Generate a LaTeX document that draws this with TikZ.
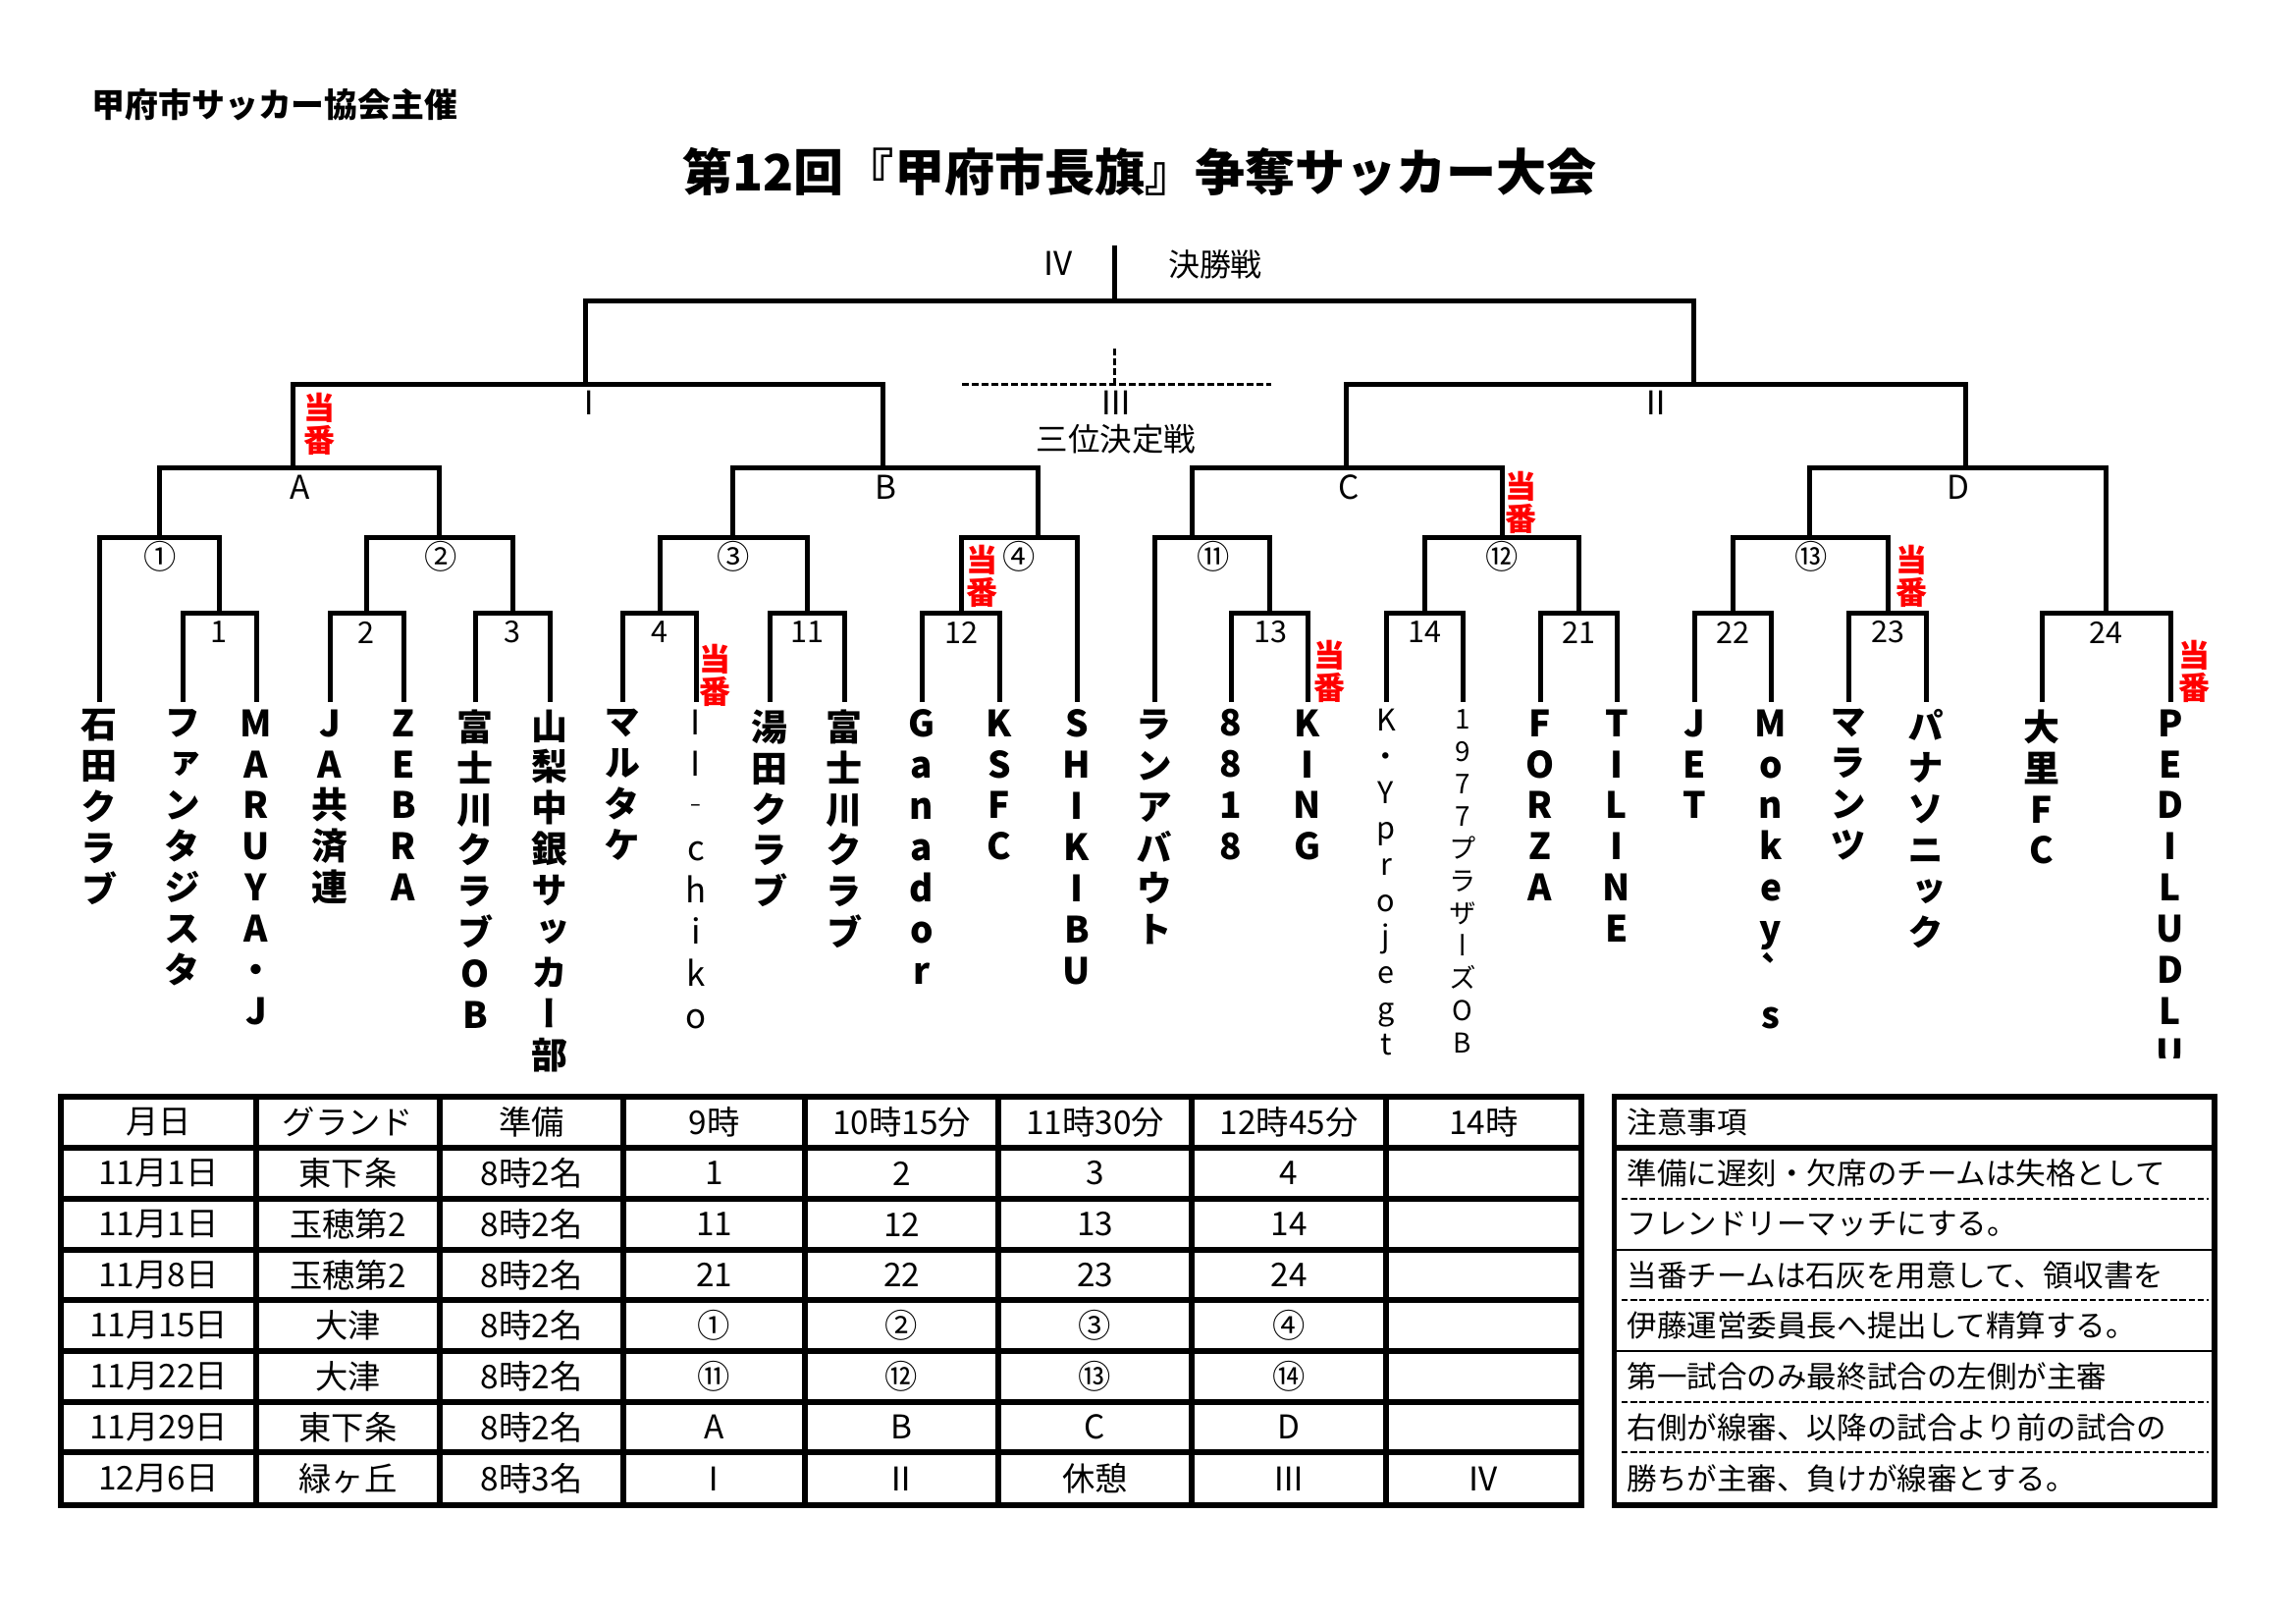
\documentclass[tikz,border=0pt]{standalone}
\usepackage{fontspec}
\setmainfont{Noto Sans CJK JP}
\newfontfamily\vfont[RawFeature=+vert]{Noto Sans CJK JP}
\definecolor{dutyred}{RGB}{255,0,0}
\begin{document}
\begin{tikzpicture}[x=0.36pt,y=-0.36pt,
  br/.style={line width=1.8pt, line join=miter},
  thirdline/.style={line width=1.2pt, dash pattern=on 2.4pt off 1.2pt},
  lbl/.style={inner sep=0pt, font=\fontsize{12pt}{14pt}\selectfont},
  num/.style={inner sep=0pt, font=\fontsize{11pt}{13pt}\selectfont},
  team/.style={anchor=north, inner sep=0pt, align=center, font=\vfont\bfseries\fontsize{13.3pt}{15.1pt}\selectfont},
  thinteam/.style={anchor=north, inner sep=0pt, align=center, font=\vfont\fontsize{12.5pt}{15.4pt}\selectfont},
  duty/.style={inner sep=0pt, align=center, text=dutyred, font=\bfseries\fontsize{11.5pt}{11.9pt}\selectfont},
  tabline/.style={line width=2pt},
  cell/.style={inner sep=0pt, font=\fontsize{12pt}{14pt}\selectfont},
  note/.style={anchor=west, inner sep=0pt, font=\fontsize{11pt}{13pt}\selectfont},
  notedash/.style={line width=1pt, dash pattern=on 2.3pt off 1pt},
]
\useasboundingbox (0,0) rectangle (2339,1653);

% headings
\node[inner sep=0pt, font=\bfseries\fontsize{12.2pt}{14pt}\selectfont] (org) at (280,107) {甲府市サッカー協会主催};
\node[inner sep=0pt, font=\bfseries\fontsize{18.4pt}{22pt}\selectfont] (title) at (1161,175) {第12回『甲府市長旗』争奪サッカー大会};

% team line tops
\foreach \x [count=\i] in {101,186,261,336,411,484,560,634,709,784,860,939,1018,1097,1176,1254,1332,1412,1490,1569,1647,1726,1804,1883,1962,2080,2211}
  {\coordinate (t\i) at (\x,715);}

% first round
\coordinate (m1) at (223,624.5);
\coordinate (m2) at (373,624.5);
\coordinate (m3) at (522,624.5);
\coordinate (m4) at (672,624.5);
\coordinate (m11) at (822,624.5);
\coordinate (m12) at (979,624.5);
\coordinate (m13) at (1293,624.5);
\coordinate (m14) at (1451,624.5);
\coordinate (m21) at (1608,624.5);
\coordinate (m22) at (1765,624.5);
\coordinate (m23) at (1923,624.5);
\coordinate (m24) at (2145,624.5);
% second round
\coordinate (r1) at (162,547);
\coordinate (r2) at (447,547);
\coordinate (r3) at (746,547);
\coordinate (r4) at (1057.5,547);
\coordinate (r11) at (1214.5,547);
\coordinate (r12) at (1530,547);
\coordinate (r13) at (1843,547);
% quarter
\coordinate (qA) at (298.5,476.5);
\coordinate (qB) at (899.7,476.5);
\coordinate (qC) at (1371.5,476.5);
\coordinate (qD) at (2002,476.5);
% semi / final
\coordinate (s1) at (596.7,391.5);
\coordinate (s2) at (1725.7,391.5);
\coordinate (fin) at (1135.4,306.5);
\coordinate (fintop) at (1135.4,250);
\coordinate (th) at (1135.4,391.5);
\coordinate (thtop) at (1135.4,355);
\coordinate (thL) at (980,391.5);
\coordinate (thR) at (1294.5,391.5);

\draw[br] (t2) |- (m1) -| (t3);
\draw[br] (t4) |- (m2) -| (t5);
\draw[br] (t6) |- (m3) -| (t7);
\draw[br] (t8) |- (m4) -| (t9);
\draw[br] (t10) |- (m11) -| (t11);
\draw[br] (t12) |- (m12) -| (t13);
\draw[br] (t16) |- (m13) -| (t17);
\draw[br] (t18) |- (m14) -| (t19);
\draw[br] (t20) |- (m21) -| (t21);
\draw[br] (t22) |- (m22) -| (t23);
\draw[br] (t24) |- (m23) -| (t25);
\draw[br] (t26) |- (m24) -| (t27);
\draw[br] (t1) |- (r1) -| (m1);
\draw[br] (m2) |- (r2) -| (m3);
\draw[br] (m4) |- (r3) -| (m11);
\draw[br] (m12) |- (r4) -| (t14);
\draw[br] (t15) |- (r11) -| (m13);
\draw[br] (m14) |- (r12) -| (m21);
\draw[br] (m22) |- (r13) -| (m23);
\draw[br] (r1) |- (qA) -| (r2);
\draw[br] (r3) |- (qB) -| (r4);
\draw[br] (r11) |- (qC) -| (r12);
\draw[br] (r13) |- (qD) -| (m24);
\draw[br] (qA) |- (s1) -| (qB);
\draw[br] (qC) |- (s2) -| (qD);
\draw[br] (s1) |- (fin) -| (s2);
\draw[br] (fin) -- (fintop);
\draw[thirdline] (thtop) -- (th);
\draw[thirdline] (thL) -- (thR);

% match labels
\node[num] (l1) at (223,644) {1};
\node[num] (l2) at (373,644) {2};
\node[num] (l3) at (522,644) {3};
\node[num] (l4) at (672,644) {4};
\node[num] (l11) at (822,644) {11};
\node[num] (l12) at (979,644) {12};
\node[num] (l13) at (1294,644) {13};
\node[num] (l14) at (1451,644) {14};
\node[num] (l21) at (1608,644) {21};
\node[num] (l22) at (1765,644) {22};
\node[num] (l23) at (1923,644) {23};
\node[num] (l24) at (2145,644) {24};
\node[lbl] (lc1) at (163,567) {①};
\node[lbl] (lc2) at (449,567) {②};
\node[lbl] (lc3) at (747.5,567) {③};
\node[lbl] (lc4) at (1038.6,567) {④};
\node[lbl] (lc11) at (1235.8,567) {⑪};
\node[lbl] (lc12) at (1530,567) {⑫};
\node[lbl] (lc13) at (1845,567) {⑬};
\node[lbl] (lA) at (305.5,496) {A};
\node[lbl] (lB) at (902,496) {B};
\node[lbl] (lC) at (1373.7,496) {C};
\node[lbl] (lD) at (1995,496) {D};
\node[lbl] (lI) at (600,410) {Ⅰ};
\node[lbl] (lII) at (1687.6,410) {Ⅱ};
\node[lbl] (lIII) at (1137,410) {Ⅲ};
\node[lbl, font=\fontsize{11.7pt}{14pt}\selectfont] (l3rd) at (1137,447) {三位決定戦};
\node[lbl] (lIV) at (1078,268) {Ⅳ};
\node[lbl, font=\fontsize{11.5pt}{14pt}\selectfont] (lfin) at (1238,269) {決勝戦};

% duty marks
\node[duty] (d1) at (325,432) {当\\番};
\node[duty] (d2) at (1000,587) {当\\番};
\node[duty] (d3) at (728.5,688) {当\\番};
\node[duty] (d4) at (1549.7,512) {当\\番};
\node[duty] (d5) at (1947,587) {当\\番};
\node[duty] (d6) at (1354,684) {当\\番};
\node[duty] (d7) at (2235.4,684) {当\\番};

% team names
\node[team] (n1) at (101,722) {石\\田\\ク\\ラ\\ブ};
\node[team] (n2) at (186,722) {フ\\ァ\\ン\\タ\\ジ\\ス\\タ};
\node[team] (n3) at (261,722) {M\\A\\R\\U\\Y\\A\\・\\J};
\node[team] (n4) at (336,722) {J\\A\\共\\済\\連};
\node[team] (n5) at (411,722) {Z\\E\\B\\R\\A};
\node[team] (n6) at (484,722) {富\\士\\川\\ク\\ラ\\ブ\\O\\B};
\node[team] (n7) at (560,722) {山\\梨\\中\\銀\\サ\\ッ\\カ\\ー\\部};
\node[team] (n8) at (634,722) {マ\\ル\\タ\\ケ};
\node[thinteam] (n9) at (709,722) {I\\I\\‐\\c\\h\\i\\k\\o};
\node[team] (n10) at (784,722) {湯\\田\\ク\\ラ\\ブ};
\node[team] (n11) at (860,722) {富\\士\\川\\ク\\ラ\\ブ};
\node[team] (n12) at (939,722) {G\\a\\n\\a\\d\\o\\r};
\node[team] (n13) at (1018,722) {K\\S\\F\\C};
\node[team] (n14) at (1097,722) {S\\H\\I\\K\\I\\B\\U};
\node[team] (n15) at (1176,722) {ラ\\ン\\ア\\バ\\ウ\\ト};
\node[team] (n16) at (1254,722) {8\\8\\1\\8};
\node[team] (n17) at (1332,722) {K\\I\\N\\G};
\node[thinteam, font=\vfont\fontsize{11pt}{13.2pt}\selectfont] (n18) at (1412,722) {K\\・\\Y\\p\\r\\o\\j\\e\\g\\t};
\node[thinteam, font=\vfont\fontsize{10pt}{11.9pt}\selectfont] (n19) at (1490,722) {1\\9\\7\\7\\プ\\ラ\\ザ\\ー\\ズ\\O\\B};
\node[team] (n20) at (1569,722) {F\\O\\R\\Z\\A};
\node[team] (n21) at (1647,722) {T\\I\\L\\I\\N\\E};
\node[team] (n22) at (1726,722) {J\\E\\T};
\node[team] (n23) at (1804,722) {M\\o\\n\\k\\e\\y\\`\\s};
\node[team] (n24) at (1883,722) {マ\\ラ\\ン\\ツ};
\node[team] (n25) at (1962,722) {パ\\ナ\\ソ\\ニ\\ッ\\ク};
\node[team] (n26) at (2080,722) {大\\里\\F\\C};
\begin{scope}
  \clip (2150,700) rectangle (2290,1077);
  \node[team] (n27) at (2211,722) {P\\E\\D\\I\\L\\U\\D\\L\\U};
\end{scope}

% schedule table
\draw[tabline] (62,1117) rectangle (1611,1533);
\foreach \x in {261,448,635,820,1017,1214,1412} \draw[tabline] (\x,1117) -- (\x,1533);
\foreach \y in {1169,1221,1273,1324,1376,1428,1479} \draw[tabline] (62,\y) -- (1611,\y);
\def\colx{{161.5,354.5,541.5,727.5,918.5,1115.5,1313,1511.5}}
\foreach \ry/\lst [count=\r] in {
  1143/{月日,グランド,準備,9時,10時15分,11時30分,12時45分,14時},
  1195/{11月1日,東下条,8時2名,1,2,3,4},
  1247/{11月1日,玉穂第2,8時2名,11,12,13,14},
  1298.5/{11月8日,玉穂第2,8時2名,21,22,23,24},
  1350/{11月15日,大津,8時2名,①,②,③,④},
  1402/{11月22日,大津,8時2名,⑪,⑫,⑬,⑭},
  1453.5/{11月29日,東下条,8時2名,A,B,C,D},
  1506/{12月6日,緑ヶ丘,8時3名,Ⅰ,Ⅱ,休憩,Ⅲ,Ⅳ}}{
  \foreach \t [count=\c] in \lst {
    \pgfmathsetmacro\cx{\colx[\c-1]}
    \node[cell] (cell-\r-\c) at (\cx,\ry) {\t};
  }
}

% notes box
\draw[tabline] (1644.5,1117) rectangle (2256,1533);
\draw[tabline] (1644.5,1169) -- (2256,1169);
\draw[line width=1pt] (1644.5,1273) -- (2256,1273);
\draw[line width=1pt] (1644.5,1376) -- (2256,1376);
\foreach \y in {1221,1324,1428,1479} \draw[notedash] (1652,\y) -- (2250,\y);
\foreach \y/\t [count=\k] in {
  1143/注意事項,
  1195/準備に遅刻・欠席のチームは失格として,
  1247/フレンドリーマッチにする。,
  1298.5/当番チームは石灰を用意して、領収書を,
  1350/伊藤運営委員長へ提出して精算する。,
  1402/第一試合のみ最終試合の左側が主審,
  1453.5/右側が線審、以降の試合より前の試合の,
  1506/勝ちが主審、負けが線審とする。}{
  \node[note] (note-\k) at (1657,\y) {\t};
}
\end{tikzpicture}
\end{document}
